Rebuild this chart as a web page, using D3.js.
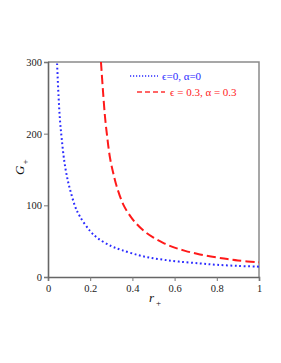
<!DOCTYPE html>
<meta charset="utf-8">
<style>
  body { margin: 0; background: #fff; }
  text { font-family: "Liberation Serif", "DejaVu Serif", serif; }
</style>
<svg width="281" height="363"></svg>
<script src="https://d3js.org/d3.v7.min.js"></script>
<script>
// values: [r+, G+]
var blueCurve = [
  [0.043, 298], [0.05, 252], [0.057, 218], [0.065, 193], [0.077, 162],
  [0.09, 140], [0.1, 127], [0.128, 99], [0.15, 85], [0.2, 64],
  [0.234, 54.5], [0.3, 43], [0.35, 37.5], [0.428, 30.5], [0.483, 27],
  [0.55, 24], [0.62, 21.5], [0.72, 19], [0.8, 17], [0.9, 15.5], [1, 14.4]
]
var redCurve = [
  [0.251, 300], [0.26, 262], [0.27, 224], [0.28, 197], [0.294, 166],
  [0.31, 144], [0.325, 127], [0.357, 101], [0.39, 85], [0.42, 74],
  [0.46, 63], [0.5, 55], [0.55, 47], [0.6, 41], [0.65, 36.5],
  [0.72, 31.5], [0.8, 27.2], [0.85, 25], [0.9, 23], [1, 20.5]
]
var xTicks = [0, 0.2, 0.4, 0.6, 0.8, 1]
var xMinor = [0.1, 0.3, 0.5, 0.7, 0.9]
var yTicks = [0, 100, 200, 300]
var yMinor = [50, 150, 250]
var legendLabels = ["\u03F5=0, \u03B1=0", "\u03F5 = 0.3, \u03B1 = 0.3"]

var plotL = 48, plotR = 259, plotT = 62, plotB = 277
var svg = d3.select('svg')

var x = d3.scaleLinear().domain([0, 1]).range([plotL, plotR])
var y = d3.scaleLinear().domain([0, 300]).range([plotB, plotT])

svg.append('clipPath').attr('id', 'plot')
  .append('rect')
  .attr('x', plotL).attr('y', plotT - 1)
  .attr('width', plotR - plotL).attr('height', plotB - plotT + 1)

// frame (top and right)
svg.append('path')
  .attr('d', 'M' + plotL + ',' + plotT + 'H' + plotR + 'V' + plotB)
  .attr('fill', 'none')
  .attr('stroke', '#8a8a8a')
  .attr('stroke-width', 1.5)

// axes
var xAxis = svg.append('g').attr('transform', 'translate(0,' + plotB + ')')
xAxis.call(d3.axisBottom(x).tickValues(xMinor).tickSize(3).tickFormat(''))
xAxis.call(d3.axisBottom(x).tickValues(xTicks).tickSize(4).tickPadding(4)
  .tickFormat(function (d) { return d === 0 || d === 1 ? d : d.toFixed(1) }))
var yAxis = svg.append('g').attr('transform', 'translate(' + plotL + ',0)')
yAxis.call(d3.axisLeft(y).tickValues(yMinor).tickSize(3).tickFormat(''))
yAxis.call(d3.axisLeft(y).tickValues(yTicks).tickSize(4).tickPadding(2))

svg.selectAll('.domain').attr('stroke', '#666').attr('stroke-width', 1.6)
svg.selectAll('.tick line').attr('stroke', '#777')
svg.selectAll('.tick text')
  .attr('font-family', '"Liberation Serif", serif')
  .attr('font-size', 10.5)
  .attr('fill', '#222')

// curves
var line = d3.line()
  .x(function (d) { return x(d[0]) })
  .y(function (d) { return y(d[1]) })
  .curve(d3.curveCatmullRom.alpha(0.5))

var curves = svg.append('g').attr('clip-path', 'url(#plot)')
curves.append('path')
  .datum(blueCurve)
  .attr('d', line)
  .attr('fill', 'none')
  .attr('stroke', '#2a2aff')
  .attr('stroke-width', 2)
  .attr('stroke-dasharray', '1.8,2.6')
curves.append('path')
  .datum(redCurve)
  .attr('d', line)
  .attr('fill', 'none')
  .attr('stroke', '#ff1a1a')
  .attr('stroke-width', 2)
  .attr('stroke-dasharray', '9,4')

// legend
var legend = svg.append('g')
legend.append('line')
  .attr('x1', 130).attr('x2', 158).attr('y1', 76).attr('y2', 76)
  .attr('stroke', '#2a2aff').attr('stroke-width', 1.5)
  .attr('stroke-dasharray', '1.2,1.8')
legend.append('text')
  .attr('x', 162).attr('y', 79.5)
  .attr('font-size', 11)
  .attr('fill', '#2a2aff')
  .text(legendLabels[0])
legend.append('line')
  .attr('x1', 137).attr('x2', 165).attr('y1', 92).attr('y2', 92)
  .attr('stroke', '#ff3333').attr('stroke-width', 1.3)
  .attr('stroke-dasharray', '5,3')
legend.append('text')
  .attr('x', 170).attr('y', 95.5)
  .attr('font-size', 11)
  .attr('fill', '#ff1a1a')
  .text(legendLabels[1])

// axis titles
var yTitle = svg.append('text')
  .attr('transform', 'translate(24,175) rotate(-90)')
  .attr('font-size', 13)
  .attr('font-style', 'italic')
  .attr('fill', '#111')
yTitle.append('tspan').text('G')
yTitle.append('tspan').attr('font-size', 9).attr('font-style', 'normal')
  .attr('dx', 1).attr('dy', 4).text('+')

var xTitle = svg.append('text')
  .attr('x', 149).attr('y', 302)
  .attr('font-size', 13)
  .attr('font-style', 'italic')
  .attr('fill', '#111')
xTitle.append('tspan').text('r')
xTitle.append('tspan').attr('font-size', 9).attr('font-style', 'normal')
  .attr('dx', 2).attr('dy', 4).text('+')
</script>
